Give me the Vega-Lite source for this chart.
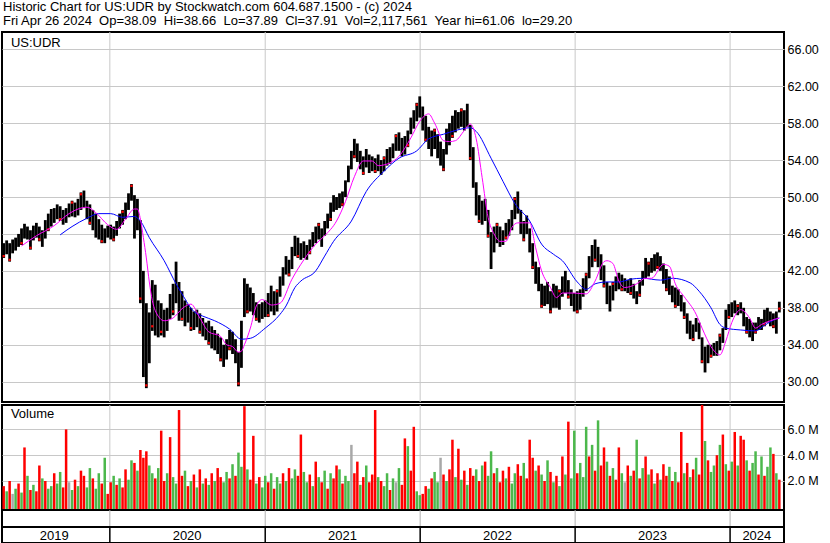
{
  "$schema": "https://vega.github.io/schema/vega-lite/v6.json",
  "padding": 0,
  "background": "white",
  "spacing": 3,
  "bounds": "flush",
  "title": {
    "text": "Historic Chart for US:UDR by Stockwatch.com 604.687.1500 - (c) 2024",
    "subtitle": "Fri Apr 26 2024\u00a0\u00a0Op=38.09\u00a0\u00a0Hi=38.66\u00a0\u00a0Lo=37.89\u00a0\u00a0Cl=37.91\u00a0\u00a0Vol=2,117,561\u00a0\u00a0Year hi=61.06\u00a0\u00a0lo=29.20",
    "anchor": "start", "frame": "bounds", "font": "Liberation Sans", "fontSize": 13, "fontWeight": "normal",
    "subtitleFont": "Liberation Sans", "subtitleFontSize": 13, "subtitleColor": "black", "subtitlePadding": 1,
    "offset": 3, "dx": 3, "color": "black"
  },
  "config": {
    "view": {"stroke": "black", "strokeWidth": 2},
    "font": "Liberation Sans"
  },
  "datasets": {
    "years": [{"d":"2020-01-01"},{"d":"2021-01-01"},{"d":"2022-01-01"},{"d":"2023-01-01"},{"d":"2024-01-01"}],
    "ylabels": [{"d":"2019-08-23","t":"2019"},{"d":"2020-07-01","t":"2020"},{"d":"2021-07-02","t":"2021"},{"d":"2022-07-02","t":"2022"},{"d":"2023-07-02","t":"2023"},{"d":"2024-03-04","t":"2024"}],
    "px": [
      {"d":"2019-04-26","h":45.0,"l":43.4,"v":1.6,"s":"d","k":43.6},
      {"d":"2019-05-03","h":45.3,"l":43.8,"v":1.2,"s":"u"},
      {"d":"2019-05-10","h":45.0,"l":43.0,"v":2.0,"s":"d","k":43.2},
      {"d":"2019-05-17","h":45.4,"l":43.9,"v":1.0,"s":"n"},
      {"d":"2019-05-24","h":45.6,"l":44.2,"v":1.4,"s":"u"},
      {"d":"2019-05-31","h":46.0,"l":44.6,"v":1.8,"s":"d"},
      {"d":"2019-06-07","h":46.6,"l":44.8,"v":1.1,"s":"u","k":45.0},
      {"d":"2019-06-14","h":47.1,"l":45.5,"v":4.6,"s":"d"},
      {"d":"2019-06-21","h":46.8,"l":45.4,"v":2.4,"s":"u"},
      {"d":"2019-06-28","h":46.4,"l":44.3,"v":1.3,"s":"d","k":44.5},
      {"d":"2019-07-05","h":46.9,"l":45.3,"v":1.7,"s":"u"},
      {"d":"2019-07-12","h":47.2,"l":45.6,"v":1.2,"s":"d"},
      {"d":"2019-07-19","h":46.8,"l":45.2,"v":3.2,"s":"d","k":45.4},
      {"d":"2019-07-26","h":46.4,"l":44.6,"v":2.2,"s":"u"},
      {"d":"2019-08-02","h":47.5,"l":45.5,"v":2.0,"s":"d"},
      {"d":"2019-08-09","h":48.2,"l":46.3,"v":1.4,"s":"u","k":46.5},
      {"d":"2019-08-16","h":48.7,"l":46.8,"v":1.6,"s":"u"},
      {"d":"2019-08-23","h":48.8,"l":47.2,"v":2.6,"s":"d"},
      {"d":"2019-08-30","h":49.2,"l":47.6,"v":1.8,"s":"u"},
      {"d":"2019-09-06","h":49.0,"l":47.4,"v":2.7,"s":"u","k":47.6},
      {"d":"2019-09-13","h":48.6,"l":47.0,"v":1.5,"s":"d"},
      {"d":"2019-09-20","h":48.8,"l":47.2,"v":6.0,"s":"d"},
      {"d":"2019-09-27","h":49.3,"l":47.8,"v":1.9,"s":"n"},
      {"d":"2019-10-04","h":49.6,"l":47.9,"v":1.3,"s":"u","k":49.4},
      {"d":"2019-10-11","h":49.4,"l":47.8,"v":2.1,"s":"d"},
      {"d":"2019-10-18","h":49.8,"l":48.0,"v":1.6,"s":"u"},
      {"d":"2019-10-25","h":50.5,"l":48.6,"v":2.8,"s":"d","k":50.3},
      {"d":"2019-11-01","h":50.7,"l":48.8,"v":2.4,"s":"d"},
      {"d":"2019-11-08","h":49.6,"l":47.6,"v":1.5,"s":"u"},
      {"d":"2019-11-15","h":49.2,"l":47.0,"v":3.0,"s":"u","k":47.2},
      {"d":"2019-11-22","h":48.6,"l":46.4,"v":2.2,"s":"d"},
      {"d":"2019-11-29","h":48.2,"l":45.6,"v":1.4,"s":"u"},
      {"d":"2019-12-06","h":47.6,"l":45.4,"v":2.6,"s":"u"},
      {"d":"2019-12-13","h":47.0,"l":45.0,"v":1.8,"s":"d","k":45.2},
      {"d":"2019-12-20","h":46.6,"l":45.0,"v":3.8,"s":"u"},
      {"d":"2019-12-27","h":46.9,"l":45.6,"v":1.0,"s":"d"},
      {"d":"2020-01-03","h":47.0,"l":45.4,"v":1.9,"s":"d"},
      {"d":"2020-01-10","h":46.8,"l":45.2,"v":2.4,"s":"u","k":45.4},
      {"d":"2020-01-17","h":47.4,"l":45.8,"v":1.7,"s":"d"},
      {"d":"2020-01-24","h":48.2,"l":46.6,"v":2.2,"s":"u"},
      {"d":"2020-01-31","h":48.6,"l":47.0,"v":1.5,"s":"d","k":48.4},
      {"d":"2020-02-07","h":49.4,"l":47.6,"v":2.9,"s":"d"},
      {"d":"2020-02-14","h":50.4,"l":48.6,"v":2.1,"s":"u"},
      {"d":"2020-02-21","h":51.4,"l":49.6,"v":3.6,"s":"u","k":51.2},
      {"d":"2020-02-28","h":50.2,"l":45.5,"v":3.4,"s":"d"},
      {"d":"2020-03-06","h":49.8,"l":46.4,"v":2.8,"s":"u"},
      {"d":"2020-03-13","h":47.5,"l":38.5,"v":4.4,"s":"d","k":39.0},
      {"d":"2020-03-20","h":42.0,"l":30.5,"v":3.8,"s":"d"},
      {"d":"2020-03-27","h":38.5,"l":29.3,"v":4.3,"s":"d","k":29.6},
      {"d":"2020-04-03","h":37.5,"l":32.0,"v":3.2,"s":"u"},
      {"d":"2020-04-10","h":41.0,"l":35.5,"v":2.6,"s":"u","k":36.0},
      {"d":"2020-04-17","h":40.5,"l":35.0,"v":2.2,"s":"d"},
      {"d":"2020-04-24","h":38.8,"l":34.8,"v":3.0,"s":"u"},
      {"d":"2020-05-01","h":38.5,"l":35.0,"v":5.9,"s":"d","k":35.4},
      {"d":"2020-05-08","h":37.8,"l":34.8,"v":2.0,"s":"d"},
      {"d":"2020-05-15","h":38.0,"l":35.5,"v":2.6,"s":"u"},
      {"d":"2020-05-22","h":39.5,"l":36.8,"v":5.4,"s":"d"},
      {"d":"2020-05-29","h":40.6,"l":37.2,"v":2.3,"s":"u","k":37.6},
      {"d":"2020-06-05","h":43.0,"l":38.5,"v":1.8,"s":"u"},
      {"d":"2020-06-12","h":40.8,"l":36.6,"v":7.5,"s":"d"},
      {"d":"2020-06-19","h":39.8,"l":36.6,"v":2.4,"s":"d","k":36.8},
      {"d":"2020-06-26","h":38.8,"l":36.0,"v":2.8,"s":"u"},
      {"d":"2020-07-03","h":38.4,"l":36.4,"v":1.6,"s":"d"},
      {"d":"2020-07-10","h":38.0,"l":35.5,"v":2.0,"s":"u","k":35.8},
      {"d":"2020-07-17","h":37.6,"l":35.6,"v":2.5,"s":"d"},
      {"d":"2020-07-24","h":37.8,"l":35.9,"v":1.5,"s":"u"},
      {"d":"2020-07-31","h":37.4,"l":35.2,"v":2.9,"s":"d","k":35.4},
      {"d":"2020-08-07","h":36.9,"l":34.9,"v":1.8,"s":"u"},
      {"d":"2020-08-14","h":36.4,"l":34.5,"v":2.2,"s":"d"},
      {"d":"2020-08-21","h":36.6,"l":34.0,"v":1.7,"s":"u","k":34.2},
      {"d":"2020-08-28","h":36.0,"l":33.6,"v":2.6,"s":"d"},
      {"d":"2020-09-04","h":35.6,"l":33.4,"v":2.0,"s":"u"},
      {"d":"2020-09-11","h":35.2,"l":33.0,"v":3.0,"s":"d"},
      {"d":"2020-09-18","h":34.8,"l":32.2,"v":2.3,"s":"d","k":32.4},
      {"d":"2020-09-25","h":34.0,"l":31.6,"v":1.9,"s":"u"},
      {"d":"2020-10-02","h":34.6,"l":32.4,"v":2.7,"s":"u"},
      {"d":"2020-10-09","h":35.6,"l":33.4,"v":2.2,"s":"d","k":33.6},
      {"d":"2020-10-16","h":35.4,"l":33.0,"v":3.3,"s":"u"},
      {"d":"2020-10-23","h":34.6,"l":32.0,"v":2.4,"s":"d"},
      {"d":"2020-10-30","h":33.2,"l":29.5,"v":4.2,"s":"u","k":29.8},
      {"d":"2020-11-06","h":36.6,"l":31.5,"v":3.1,"s":"u"},
      {"d":"2020-11-13","h":41.2,"l":37.0,"v":7.8,"s":"d"},
      {"d":"2020-11-20","h":40.6,"l":37.4,"v":2.9,"s":"u","k":37.6},
      {"d":"2020-11-27","h":40.2,"l":37.6,"v":2.1,"s":"d"},
      {"d":"2020-12-04","h":39.6,"l":37.2,"v":5.5,"s":"d"},
      {"d":"2020-12-11","h":38.6,"l":36.6,"v":1.8,"s":"u","k":36.8},
      {"d":"2020-12-18","h":38.4,"l":36.4,"v":2.3,"s":"d"},
      {"d":"2020-12-25","h":38.6,"l":36.8,"v":1.5,"s":"u"},
      {"d":"2021-01-01","h":38.8,"l":37.0,"v":2.4,"s":"u"},
      {"d":"2021-01-08","h":39.6,"l":37.0,"v":1.9,"s":"d","k":37.2},
      {"d":"2021-01-15","h":40.4,"l":37.6,"v":2.6,"s":"u"},
      {"d":"2021-01-22","h":39.8,"l":37.2,"v":1.4,"s":"d"},
      {"d":"2021-01-29","h":40.0,"l":37.6,"v":2.3,"s":"u","k":39.8},
      {"d":"2021-02-05","h":41.4,"l":39.2,"v":1.8,"s":"u"},
      {"d":"2021-02-12","h":42.4,"l":40.4,"v":2.6,"s":"d"},
      {"d":"2021-02-19","h":43.6,"l":41.6,"v":2.0,"s":"u"},
      {"d":"2021-02-26","h":43.2,"l":41.4,"v":3.0,"s":"d","k":41.6},
      {"d":"2021-03-05","h":44.6,"l":42.2,"v":2.2,"s":"u"},
      {"d":"2021-03-12","h":45.8,"l":43.6,"v":2.9,"s":"u"},
      {"d":"2021-03-19","h":45.6,"l":43.4,"v":2.4,"s":"d","k":43.6},
      {"d":"2021-03-26","h":45.0,"l":43.2,"v":5.6,"s":"d"},
      {"d":"2021-04-02","h":45.2,"l":43.4,"v":2.7,"s":"u"},
      {"d":"2021-04-09","h":44.8,"l":43.2,"v":1.9,"s":"u"},
      {"d":"2021-04-16","h":45.4,"l":43.8,"v":2.5,"s":"d","k":44.0},
      {"d":"2021-04-23","h":46.2,"l":44.6,"v":1.6,"s":"u"},
      {"d":"2021-04-30","h":46.8,"l":45.0,"v":3.5,"s":"d"},
      {"d":"2021-05-07","h":47.2,"l":45.4,"v":2.3,"s":"u","k":47.0},
      {"d":"2021-05-14","h":46.6,"l":44.6,"v":1.9,"s":"d"},
      {"d":"2021-05-21","h":47.4,"l":45.8,"v":2.8,"s":"u"},
      {"d":"2021-05-28","h":48.2,"l":46.6,"v":1.4,"s":"d"},
      {"d":"2021-06-04","h":49.4,"l":47.4,"v":2.6,"s":"u","k":47.6},
      {"d":"2021-06-11","h":50.2,"l":48.4,"v":2.2,"s":"d"},
      {"d":"2021-06-18","h":50.0,"l":48.6,"v":3.2,"s":"d"},
      {"d":"2021-06-25","h":50.4,"l":48.8,"v":2.9,"s":"u"},
      {"d":"2021-07-02","h":50.6,"l":49.0,"v":1.8,"s":"d","k":49.2},
      {"d":"2021-07-09","h":51.8,"l":50.0,"v":2.4,"s":"u"},
      {"d":"2021-07-16","h":53.4,"l":51.6,"v":2.0,"s":"u"},
      {"d":"2021-07-23","h":55.0,"l":53.0,"v":4.8,"s":"n"},
      {"d":"2021-07-30","h":56.3,"l":54.2,"v":2.6,"s":"d","k":54.4},
      {"d":"2021-08-06","h":55.8,"l":53.8,"v":3.5,"s":"d"},
      {"d":"2021-08-13","h":55.0,"l":53.0,"v":1.7,"s":"u"},
      {"d":"2021-08-20","h":54.4,"l":52.4,"v":2.3,"s":"d","k":52.6},
      {"d":"2021-08-27","h":55.2,"l":53.2,"v":3.2,"s":"u"},
      {"d":"2021-09-03","h":54.6,"l":52.6,"v":1.9,"s":"d"},
      {"d":"2021-09-10","h":54.4,"l":52.8,"v":2.5,"s":"d"},
      {"d":"2021-09-17","h":54.2,"l":52.6,"v":7.5,"s":"d","k":52.8},
      {"d":"2021-09-24","h":54.6,"l":52.8,"v":2.3,"s":"u"},
      {"d":"2021-10-01","h":54.0,"l":52.4,"v":2.0,"s":"d"},
      {"d":"2021-10-08","h":54.4,"l":52.8,"v":1.6,"s":"u","k":54.2},
      {"d":"2021-10-15","h":55.2,"l":53.4,"v":2.6,"s":"u"},
      {"d":"2021-10-22","h":55.4,"l":53.6,"v":1.3,"s":"d"},
      {"d":"2021-10-29","h":55.8,"l":54.2,"v":2.2,"s":"u"},
      {"d":"2021-11-05","h":56.8,"l":55.0,"v":1.9,"s":"n","k":56.6},
      {"d":"2021-11-12","h":57.0,"l":55.0,"v":3.0,"s":"u"},
      {"d":"2021-11-19","h":56.4,"l":54.4,"v":1.7,"s":"d"},
      {"d":"2021-11-26","h":56.6,"l":54.6,"v":5.3,"s":"d"},
      {"d":"2021-12-03","h":57.2,"l":55.4,"v":4.7,"s":"u","k":55.6},
      {"d":"2021-12-10","h":58.6,"l":56.8,"v":2.8,"s":"d"},
      {"d":"2021-12-17","h":59.4,"l":57.4,"v":6.2,"s":"d"},
      {"d":"2021-12-24","h":60.2,"l":58.2,"v":1.2,"s":"u","k":60.0},
      {"d":"2021-12-31","h":60.9,"l":58.6,"v":0.9,"s":"u"},
      {"d":"2022-01-07","h":59.8,"l":57.2,"v":1.0,"s":"d"},
      {"d":"2022-01-14","h":58.8,"l":56.0,"v":1.6,"s":"d","k":56.2},
      {"d":"2022-01-21","h":57.6,"l":55.2,"v":1.4,"s":"u"},
      {"d":"2022-01-28","h":57.2,"l":54.4,"v":2.2,"s":"d"},
      {"d":"2022-02-04","h":57.4,"l":55.2,"v":2.7,"s":"u","k":57.2},
      {"d":"2022-02-11","h":56.8,"l":54.2,"v":1.9,"s":"u"},
      {"d":"2022-02-18","h":56.0,"l":53.4,"v":3.8,"s":"n"},
      {"d":"2022-02-25","h":55.2,"l":52.8,"v":2.5,"s":"d","k":53.0},
      {"d":"2022-03-04","h":57.4,"l":54.6,"v":2.0,"s":"u"},
      {"d":"2022-03-11","h":58.0,"l":55.6,"v":2.9,"s":"d"},
      {"d":"2022-03-18","h":58.8,"l":56.4,"v":5.2,"s":"d","k":56.6},
      {"d":"2022-03-25","h":59.4,"l":57.0,"v":2.3,"s":"u"},
      {"d":"2022-04-01","h":59.2,"l":57.4,"v":4.5,"s":"d"},
      {"d":"2022-04-08","h":59.6,"l":57.6,"v":2.1,"s":"u","k":59.4},
      {"d":"2022-04-15","h":59.4,"l":57.2,"v":2.8,"s":"d"},
      {"d":"2022-04-22","h":60.1,"l":57.6,"v":1.7,"s":"u"},
      {"d":"2022-04-29","h":57.8,"l":54.0,"v":3.0,"s":"d","k":54.2},
      {"d":"2022-05-06","h":55.4,"l":51.0,"v":2.4,"s":"d"},
      {"d":"2022-05-13","h":51.6,"l":48.0,"v":2.9,"s":"u"},
      {"d":"2022-05-20","h":50.2,"l":47.2,"v":2.0,"s":"d","k":47.4},
      {"d":"2022-05-27","h":49.6,"l":47.0,"v":3.2,"s":"u"},
      {"d":"2022-06-03","h":49.8,"l":47.4,"v":3.5,"s":"d"},
      {"d":"2022-06-10","h":48.6,"l":45.6,"v":2.4,"s":"u","k":45.8},
      {"d":"2022-06-17","h":46.2,"l":42.2,"v":4.3,"s":"u"},
      {"d":"2022-06-24","h":46.8,"l":44.0,"v":2.6,"s":"d"},
      {"d":"2022-07-01","h":47.2,"l":45.0,"v":3.0,"s":"u","k":47.0},
      {"d":"2022-07-08","h":46.8,"l":44.6,"v":1.9,"s":"d"},
      {"d":"2022-07-15","h":46.4,"l":44.8,"v":2.8,"s":"d"},
      {"d":"2022-07-22","h":47.2,"l":45.4,"v":2.2,"s":"u","k":45.6},
      {"d":"2022-07-29","h":47.6,"l":45.8,"v":3.1,"s":"d"},
      {"d":"2022-08-05","h":48.6,"l":46.4,"v":1.8,"s":"u"},
      {"d":"2022-08-12","h":50.0,"l":47.6,"v":2.6,"s":"u","k":49.8},
      {"d":"2022-08-19","h":50.6,"l":48.2,"v":3.3,"s":"d"},
      {"d":"2022-08-26","h":48.6,"l":46.0,"v":2.4,"s":"d"},
      {"d":"2022-09-02","h":47.4,"l":45.2,"v":3.4,"s":"u","k":45.4},
      {"d":"2022-09-09","h":48.0,"l":46.0,"v":2.2,"s":"d"},
      {"d":"2022-09-16","h":46.6,"l":44.0,"v":5.2,"s":"d"},
      {"d":"2022-09-23","h":45.0,"l":42.2,"v":3.8,"s":"d","k":42.4},
      {"d":"2022-09-30","h":43.0,"l":40.6,"v":2.8,"s":"u"},
      {"d":"2022-10-07","h":42.4,"l":39.8,"v":3.2,"s":"d"},
      {"d":"2022-10-14","h":40.6,"l":38.0,"v":2.5,"s":"u","k":38.2},
      {"d":"2022-10-21","h":40.4,"l":38.2,"v":2.0,"s":"d"},
      {"d":"2022-10-28","h":40.8,"l":38.4,"v":3.6,"s":"u"},
      {"d":"2022-11-04","h":39.8,"l":37.4,"v":2.7,"s":"d","k":37.6},
      {"d":"2022-11-11","h":40.6,"l":38.0,"v":1.9,"s":"u"},
      {"d":"2022-11-18","h":40.4,"l":38.0,"v":2.4,"s":"d"},
      {"d":"2022-11-25","h":40.0,"l":37.8,"v":1.6,"s":"u","k":39.8},
      {"d":"2022-12-02","h":41.4,"l":39.2,"v":3.9,"s":"d"},
      {"d":"2022-12-09","h":42.0,"l":39.6,"v":2.5,"s":"u"},
      {"d":"2022-12-16","h":41.0,"l":39.0,"v":6.6,"s":"d","k":39.2},
      {"d":"2022-12-23","h":40.0,"l":38.2,"v":2.2,"s":"u"},
      {"d":"2022-12-30","h":39.6,"l":37.6,"v":5.9,"s":"u"},
      {"d":"2023-01-06","h":39.8,"l":37.4,"v":2.6,"s":"d","k":37.6},
      {"d":"2023-01-13","h":40.0,"l":37.8,"v":3.4,"s":"u"},
      {"d":"2023-01-20","h":41.2,"l":39.2,"v":2.3,"s":"u"},
      {"d":"2023-01-27","h":41.8,"l":39.8,"v":6.2,"s":"u","k":41.6},
      {"d":"2023-02-03","h":43.6,"l":41.2,"v":3.9,"s":"d"},
      {"d":"2023-02-10","h":44.8,"l":42.4,"v":4.8,"s":"u"},
      {"d":"2023-02-17","h":45.4,"l":43.0,"v":2.8,"s":"d","k":43.2},
      {"d":"2023-02-24","h":44.6,"l":42.4,"v":6.7,"s":"u"},
      {"d":"2023-03-03","h":43.8,"l":41.0,"v":3.2,"s":"d"},
      {"d":"2023-03-10","h":42.6,"l":40.2,"v":4.6,"s":"d","k":40.4},
      {"d":"2023-03-17","h":40.8,"l":38.4,"v":3.5,"s":"u"},
      {"d":"2023-03-24","h":40.4,"l":37.6,"v":2.4,"s":"d"},
      {"d":"2023-03-31","h":40.8,"l":38.8,"v":3.0,"s":"u","k":40.6},
      {"d":"2023-04-07","h":41.4,"l":39.8,"v":2.1,"s":"d"},
      {"d":"2023-04-14","h":41.8,"l":40.0,"v":4.6,"s":"d"},
      {"d":"2023-04-21","h":41.6,"l":39.8,"v":2.6,"s":"u","k":40.0},
      {"d":"2023-04-28","h":41.2,"l":39.8,"v":1.9,"s":"n"},
      {"d":"2023-05-05","h":41.0,"l":39.6,"v":3.2,"s":"d"},
      {"d":"2023-05-12","h":41.2,"l":39.4,"v":2.4,"s":"u","k":39.6},
      {"d":"2023-05-19","h":40.6,"l":39.0,"v":2.8,"s":"d"},
      {"d":"2023-05-26","h":39.8,"l":38.4,"v":5.2,"s":"u"},
      {"d":"2023-06-02","h":41.0,"l":39.2,"v":2.2,"s":"d","k":39.4},
      {"d":"2023-06-09","h":42.0,"l":40.4,"v":3.0,"s":"u"},
      {"d":"2023-06-16","h":43.4,"l":41.2,"v":3.9,"s":"d"},
      {"d":"2023-06-23","h":43.0,"l":41.4,"v":2.5,"s":"u","k":42.8},
      {"d":"2023-06-30","h":43.4,"l":41.8,"v":2.9,"s":"d"},
      {"d":"2023-07-07","h":43.8,"l":42.0,"v":1.8,"s":"u"},
      {"d":"2023-07-14","h":44.0,"l":42.2,"v":2.6,"s":"d","k":42.4},
      {"d":"2023-07-21","h":43.6,"l":42.0,"v":2.1,"s":"u"},
      {"d":"2023-07-28","h":42.8,"l":40.6,"v":3.3,"s":"d"},
      {"d":"2023-08-04","h":42.2,"l":39.8,"v":2.4,"s":"d","k":40.0},
      {"d":"2023-08-11","h":41.4,"l":39.4,"v":3.1,"s":"u"},
      {"d":"2023-08-18","h":40.4,"l":38.6,"v":2.0,"s":"d"},
      {"d":"2023-08-25","h":40.2,"l":38.0,"v":2.7,"s":"u","k":38.2},
      {"d":"2023-09-01","h":40.0,"l":38.2,"v":1.9,"s":"d"},
      {"d":"2023-09-08","h":39.4,"l":37.6,"v":5.8,"s":"d"},
      {"d":"2023-09-15","h":38.6,"l":36.8,"v":2.6,"s":"u","k":37.0},
      {"d":"2023-09-22","h":37.4,"l":35.2,"v":3.4,"s":"d"},
      {"d":"2023-09-29","h":36.6,"l":34.6,"v":2.3,"s":"u"},
      {"d":"2023-10-06","h":36.2,"l":34.4,"v":2.9,"s":"d","k":34.6},
      {"d":"2023-10-13","h":36.9,"l":35.4,"v":3.8,"s":"u"},
      {"d":"2023-10-20","h":36.4,"l":34.6,"v":2.5,"s":"d"},
      {"d":"2023-10-27","h":34.8,"l":32.0,"v":8.0,"s":"d","k":32.2},
      {"d":"2023-11-03","h":33.8,"l":31.0,"v":5.1,"s":"u"},
      {"d":"2023-11-10","h":34.0,"l":32.0,"v":3.6,"s":"d"},
      {"d":"2023-11-17","h":34.0,"l":32.6,"v":2.7,"s":"u","k":32.8},
      {"d":"2023-11-24","h":34.2,"l":32.8,"v":3.2,"s":"u"},
      {"d":"2023-12-01","h":34.4,"l":32.8,"v":4.0,"s":"d"},
      {"d":"2023-12-08","h":35.2,"l":33.4,"v":4.8,"s":"u","k":35.0},
      {"d":"2023-12-15","h":35.8,"l":34.2,"v":5.6,"s":"d"},
      {"d":"2023-12-22","h":37.8,"l":35.6,"v":3.3,"s":"u"},
      {"d":"2023-12-29","h":38.4,"l":36.8,"v":2.8,"s":"d","k":37.0},
      {"d":"2024-01-05","h":38.6,"l":37.0,"v":3.5,"s":"u"},
      {"d":"2024-01-12","h":38.8,"l":37.4,"v":5.8,"s":"d"},
      {"d":"2024-01-19","h":38.4,"l":37.2,"v":3.2,"s":"u","k":38.2},
      {"d":"2024-01-26","h":38.6,"l":37.4,"v":5.5,"s":"d"},
      {"d":"2024-02-02","h":38.0,"l":36.0,"v":5.2,"s":"d"},
      {"d":"2024-02-09","h":37.0,"l":35.2,"v":3.6,"s":"u","k":35.4},
      {"d":"2024-02-16","h":36.8,"l":34.8,"v":2.8,"s":"d"},
      {"d":"2024-02-23","h":36.4,"l":34.4,"v":3.4,"s":"u"},
      {"d":"2024-03-01","h":36.4,"l":35.2,"v":4.3,"s":"u","k":35.4},
      {"d":"2024-03-08","h":37.0,"l":35.6,"v":2.5,"s":"d"},
      {"d":"2024-03-15","h":36.8,"l":35.6,"v":3.9,"s":"u"},
      {"d":"2024-03-22","h":37.8,"l":36.0,"v":2.4,"s":"d","k":36.2},
      {"d":"2024-03-29","h":38.0,"l":36.4,"v":3.1,"s":"u"},
      {"d":"2024-04-05","h":37.6,"l":36.0,"v":4.6,"s":"u"},
      {"d":"2024-04-12","h":37.4,"l":35.8,"v":4.1,"s":"d","k":36.0},
      {"d":"2024-04-19","h":37.6,"l":35.2,"v":2.6,"s":"u"},
      {"d":"2024-04-26","h":38.66,"l":37.5,"v":2.1,"s":"d","k":37.91}
    ],
    "ma1": [
      {"d":"2019-06-07","v":44.7},{"d":"2019-07-12","v":45.8},{"d":"2019-08-23","v":46.9},{"d":"2019-09-27","v":48.2},{"d":"2019-10-25","v":48.8},{"d":"2019-11-08","v":48.9},{"d":"2019-11-29","v":48.3},{"d":"2019-12-27","v":47.0},{"d":"2020-01-17","v":46.5},{"d":"2020-02-07","v":47.6},{"d":"2020-02-28","v":48.7},{"d":"2020-03-06","v":48.7},{"d":"2020-03-13","v":47.6},{"d":"2020-03-20","v":45.6},{"d":"2020-03-27","v":43.4},{"d":"2020-04-03","v":40.8},{"d":"2020-04-10","v":38.8},{"d":"2020-04-17","v":37.7},{"d":"2020-05-08","v":36.6},{"d":"2020-05-29","v":36.9},{"d":"2020-06-19","v":37.9},{"d":"2020-07-10","v":38.4},{"d":"2020-07-31","v":36.9},{"d":"2020-08-21","v":35.4},{"d":"2020-09-18","v":34.9},{"d":"2020-10-02","v":34.0},{"d":"2020-10-16","v":33.8},{"d":"2020-10-30","v":33.2},{"d":"2020-11-06","v":33.3},{"d":"2020-11-13","v":34.0},{"d":"2020-11-27","v":35.8},{"d":"2020-12-11","v":38.2},{"d":"2020-12-25","v":38.9},{"d":"2021-01-15","v":38.3},{"d":"2021-02-05","v":38.5},{"d":"2021-03-05","v":41.1},{"d":"2021-04-02","v":43.2},{"d":"2021-04-30","v":44.9},{"d":"2021-05-21","v":45.8},{"d":"2021-06-18","v":47.4},{"d":"2021-07-09","v":49.5},{"d":"2021-07-30","v":52.2},{"d":"2021-08-20","v":53.9},{"d":"2021-09-10","v":53.9},{"d":"2021-09-24","v":53.4},{"d":"2021-10-22","v":53.7},{"d":"2021-11-12","v":54.4},{"d":"2021-12-10","v":56.4},{"d":"2021-12-31","v":58.2},{"d":"2022-01-21","v":59.0},{"d":"2022-02-04","v":58.0},{"d":"2022-02-25","v":56.1},{"d":"2022-03-11","v":56.0},{"d":"2022-03-25","v":56.1},{"d":"2022-04-15","v":57.2},{"d":"2022-04-29","v":57.9},{"d":"2022-05-13","v":56.3},{"d":"2022-05-27","v":52.1},{"d":"2022-06-10","v":47.8},{"d":"2022-06-24","v":46.0},{"d":"2022-07-08","v":45.2},{"d":"2022-07-22","v":45.2},{"d":"2022-08-05","v":46.7},{"d":"2022-08-19","v":47.2},{"d":"2022-09-16","v":47.2},{"d":"2022-09-30","v":44.5},{"d":"2022-10-14","v":42.0},{"d":"2022-11-04","v":40.2},{"d":"2022-11-18","v":39.1},{"d":"2022-12-02","v":39.6},{"d":"2022-12-30","v":39.6},{"d":"2023-01-27","v":39.5},{"d":"2023-02-17","v":40.9},{"d":"2023-03-10","v":43.0},{"d":"2023-03-17","v":43.1},{"d":"2023-03-31","v":42.8},{"d":"2023-04-14","v":40.9},{"d":"2023-04-28","v":40.2},{"d":"2023-05-26","v":40.6},{"d":"2023-06-16","v":41.2},{"d":"2023-06-30","v":41.2},{"d":"2023-07-28","v":42.7},{"d":"2023-08-11","v":42.5},{"d":"2023-08-25","v":40.6},{"d":"2023-09-15","v":39.2},{"d":"2023-10-13","v":37.3},{"d":"2023-10-27","v":35.8},{"d":"2023-11-17","v":33.8},{"d":"2023-12-08","v":32.9},{"d":"2023-12-22","v":34.4},{"d":"2024-01-05","v":36.4},{"d":"2024-01-26","v":37.8},{"d":"2024-02-16","v":36.9},{"d":"2024-03-01","v":35.8},{"d":"2024-03-15","v":36.2},{"d":"2024-04-05","v":36.6},{"d":"2024-04-26","v":36.9}
    ],
    "ma2": [
      {"d":"2019-09-06","v":45.9},{"d":"2019-10-04","v":46.8},{"d":"2019-11-08","v":47.7},{"d":"2019-12-06","v":48.2},{"d":"2020-01-03","v":48.2},{"d":"2020-01-31","v":47.8},{"d":"2020-02-28","v":47.9},{"d":"2020-03-13","v":47.4},{"d":"2020-04-03","v":45.6},{"d":"2020-05-08","v":43.1},{"d":"2020-06-05","v":40.6},{"d":"2020-06-19","v":39.5},{"d":"2020-07-17","v":37.6},{"d":"2020-08-07","v":37.1},{"d":"2020-09-04","v":36.6},{"d":"2020-10-09","v":35.7},{"d":"2020-11-06","v":34.6},{"d":"2020-11-27","v":34.7},{"d":"2021-01-01","v":35.8},{"d":"2021-02-05","v":37.3},{"d":"2021-02-19","v":38.2},{"d":"2021-03-12","v":40.2},{"d":"2021-03-26","v":40.9},{"d":"2021-04-30","v":42.0},{"d":"2021-05-21","v":43.6},{"d":"2021-06-11","v":45.2},{"d":"2021-07-23","v":47.4},{"d":"2021-08-27","v":50.6},{"d":"2021-10-08","v":52.8},{"d":"2021-11-12","v":54.2},{"d":"2021-12-24","v":55.0},{"d":"2022-01-21","v":56.3},{"d":"2022-02-25","v":56.8},{"d":"2022-03-25","v":57.2},{"d":"2022-04-29","v":57.5},{"d":"2022-05-13","v":57.1},{"d":"2022-06-17","v":54.2},{"d":"2022-07-15","v":51.7},{"d":"2022-08-12","v":49.3},{"d":"2022-09-16","v":47.4},{"d":"2022-10-14","v":44.9},{"d":"2022-11-11","v":43.8},{"d":"2022-12-02","v":43.1},{"d":"2023-01-06","v":40.8},{"d":"2023-01-27","v":40.0},{"d":"2023-02-17","v":40.6},{"d":"2023-03-17","v":40.8},{"d":"2023-04-14","v":40.8},{"d":"2023-05-12","v":41.1},{"d":"2023-06-09","v":41.2},{"d":"2023-07-21","v":41.0},{"d":"2023-08-18","v":41.2},{"d":"2023-09-29","v":40.7},{"d":"2023-10-20","v":39.8},{"d":"2023-11-17","v":38.0},{"d":"2023-12-08","v":36.2},{"d":"2023-12-22","v":35.8},{"d":"2024-01-26","v":35.6},{"d":"2024-03-01","v":35.5},{"d":"2024-03-22","v":36.1},{"d":"2024-04-19","v":36.8},{"d":"2024-04-26","v":36.9}
    ]
  },
  "vconcat": [
    {
      "width": 782,
      "height": 370,
      "layer": [
        {
          "data": {"name": "years"},
          "mark": {"type": "rule", "color": "#c8c8c8", "strokeWidth": 1},
          "encoding": {
            "x": {"field": "d", "type": "temporal", "axis": null,
              "scale": {"type": "utc", "nice": false, "padding": 0, "domain": [{"year": 2019, "month": 4, "date": 22, "utc": true}, {"year": 2024, "month": 5, "date": 7, "utc": true}]}}
          }
        },
        {
          "data": {"name": "px"},
          "mark": {"type": "rule", "color": "black", "strokeWidth": 2.8},
          "encoding": {
            "x": {"field": "d", "type": "temporal"},
            "y": {"field": "l", "type": "quantitative",
              "scale": {"domain": [27.8, 67.87], "nice": false, "zero": false},
              "axis": {"orient": "right", "values": [30,32,34,36,38,40,42,44,46,48,50,52,54,56,58,60,62,64,66], "format": ".2f",
                "grid": true, "gridColor": "#c8c8c8", "gridWidth": 1, "ticks": false, "domain": false,
                "labelFont": "Liberation Sans", "labelFontSize": 12.5, "labelColor": "black", "labelPadding": 3, "title": null}},
            "y2": {"field": "h"}
          }
        },
        {
          "data": {"name": "px"},
          "transform": [{"filter": "isValid(datum.k)"}],
          "mark": {"type": "square", "size": 5, "color": "#ff0000", "opacity": 1},
          "encoding": {
            "x": {"field": "d", "type": "temporal"},
            "y": {"field": "k", "type": "quantitative"}
          }
        },
        {
          "data": {"name": "ma2"},
          "mark": {"type": "line", "color": "#0000ff", "strokeWidth": 1, "interpolate": "monotone"},
          "encoding": {
            "x": {"field": "d", "type": "temporal"},
            "y": {"field": "v", "type": "quantitative"}
          }
        },
        {
          "data": {"name": "ma1"},
          "mark": {"type": "line", "color": "#ff00ff", "strokeWidth": 1, "interpolate": "monotone"},
          "encoding": {
            "x": {"field": "d", "type": "temporal"},
            "y": {"field": "v", "type": "quantitative"}
          }
        },
        {
          "data": {"values": [{"t": "US:UDR"}]},
          "mark": {"type": "text", "align": "left", "baseline": "middle", "font": "Liberation Sans", "fontSize": 13, "color": "black"},
          "encoding": {
            "text": {"field": "t"},
            "x": {"datum": {"year": 2019, "month": 5, "date": 13, "utc": true}, "type": "temporal"},
            "y": {"datum": 66.68, "type": "quantitative"}
          }
        }
      ]
    },
    {
      "spacing": 0,
      "bounds": "flush",
      "vconcat": [
        {
          "width": 782,
          "height": 105,
          "layer": [
            {
              "data": {"name": "years"},
              "mark": {"type": "rule", "color": "#c8c8c8", "strokeWidth": 1},
              "encoding": {
                "x": {"field": "d", "type": "temporal", "axis": null,
                  "scale": {"type": "utc", "nice": false, "padding": 0, "domain": [{"year": 2019, "month": 4, "date": 22, "utc": true}, {"year": 2024, "month": 5, "date": 7, "utc": true}]}}
              }
            },
            {
              "data": {"name": "px"},
              "mark": {"type": "bar", "width": 2.5, "clip": true},
              "encoding": {
                "x": {"field": "d", "type": "temporal"},
                "y": {"field": "v", "type": "quantitative",
                  "scale": {"domain": [-0.25, 7.89], "nice": false, "zero": false},
                  "axis": {"orient": "right", "values": [2, 4, 6], "labelExpr": "format(datum.value, '.1f') + ' M'",
                    "grid": true, "gridColor": "#c8c8c8", "gridWidth": 1, "ticks": false, "domain": false,
                    "labelFont": "Liberation Sans", "labelFontSize": 12.5, "labelColor": "black", "labelPadding": 3, "title": null}},
                "y2": {"datum": -0.25},
                "color": {"field": "s", "type": "nominal", "legend": null,
                  "scale": {"domain": ["u", "d", "n"], "range": ["#4cb84c", "#ff0000", "#a8a8a8"]}}
              }
            },
            {
              "data": {"values": [{"t": "Volume"}]},
              "mark": {"type": "text", "align": "left", "baseline": "middle", "font": "Liberation Sans", "fontSize": 13, "color": "black"},
              "encoding": {
                "text": {"field": "t"},
                "x": {"datum": {"year": 2019, "month": 5, "date": 13, "utc": true}, "type": "temporal"},
                "y": {"datum": 7.19, "type": "quantitative"}
              }
            }
          ]
        },
        {
          "width": 782,
          "height": 33,
          "layer": [
            {
              "data": {"name": "years"},
              "mark": {"type": "rule", "color": "#b0b0b0", "strokeWidth": 1},
              "encoding": {
                "x": {"field": "d", "type": "temporal", "axis": null,
                  "scale": {"type": "utc", "nice": false, "padding": 0, "domain": [{"year": 2019, "month": 4, "date": 22, "utc": true}, {"year": 2024, "month": 5, "date": 7, "utc": true}]}},
                "y": {"datum": 16, "type": "quantitative", "scale": {"domain": [0, 33], "nice": false, "zero": false}, "axis": null},
                "y2": {"datum": 33}
              }
            },
            {
              "data": {"name": "years"},
              "mark": {"type": "rule", "color": "black", "strokeWidth": 1.5},
              "encoding": {
                "x": {"field": "d", "type": "temporal"},
                "y": {"datum": 0, "type": "quantitative"},
                "y2": {"datum": 16}
              }
            },
            {
              "data": {"values": [{"t": "mid"}]},
              "mark": {"type": "rule", "color": "black", "strokeWidth": 2},
              "encoding": {
                "y": {"datum": 16, "type": "quantitative"}
              }
            },
            {
              "data": {"name": "ylabels"},
              "mark": {"type": "text", "align": "center", "baseline": "middle", "font": "Liberation Sans", "fontSize": 13, "color": "black"},
              "encoding": {
                "text": {"field": "t"},
                "x": {"field": "d", "type": "temporal"},
                "y": {"datum": 7.5, "type": "quantitative"}
              }
            }
          ]
        }
      ]
    }
  ]
}
